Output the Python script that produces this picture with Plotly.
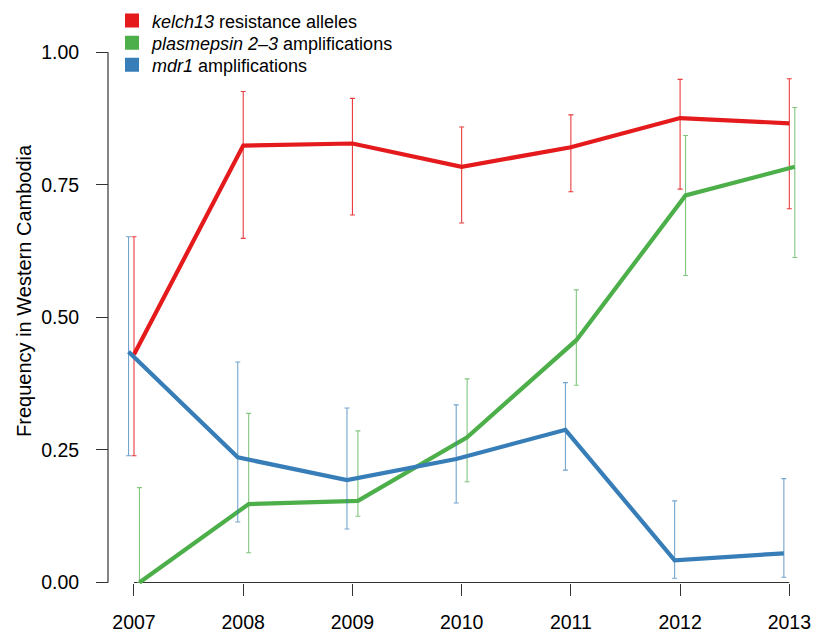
import plotly.graph_objects as go

# Survey years and per-series frequencies with confidence bounds
years = [2007, 2008, 2009, 2010, 2011, 2012, 2013]

kelch13 = [0.430, 0.824, 0.828, 0.784, 0.821, 0.876, 0.866]
kelch13_hi = [0.652, 0.926, 0.913, 0.859, 0.882, 0.949, 0.950]
kelch13_lo = [0.239, 0.649, 0.693, 0.678, 0.737, 0.742, 0.705]

plasmepsin = [0.000, 0.148, 0.154, 0.274, 0.457, 0.730, 0.784]
plasmepsin_hi = [0.179, 0.319, 0.286, 0.384, 0.552, 0.843, 0.896]
plasmepsin_lo = [0.000, 0.056, 0.125, 0.190, 0.372, 0.579, 0.613]

mdr1 = [0.435, 0.236, 0.193, 0.233, 0.288, 0.042, 0.055]
mdr1_hi = [0.652, 0.416, 0.329, 0.335, 0.377, 0.154, 0.196]
mdr1_lo = [0.239, 0.114, 0.101, 0.150, 0.212, 0.008, 0.010]

y_ticks = [0.0, 0.25, 0.5, 0.75, 1.0]
y_tick_labels = ["0.00", "0.25", "0.50", "0.75", "1.00"]
x_tick_labels = [str(y) for y in years]

RED = "#E41A1C"
GREEN = "#4DAF4A"
BLUE = "#377EB8"
FONT = "Liberation Sans, Arial, Helvetica, sans-serif"

# Canvas geometry (pixels)
W, H = 814, 632
ML, MR, MT, MB = 100, 2, 0, 40
plot_w = W - ML - MR
plot_h = H - MT - MB

# pixel placement of the data scales
X0_PX, X_PER_YEAR = 134.0, 109.22
Y0_PX, Y_PER_UNIT = 582.5, 530.2
x_range = [2006.8, 2013.2]
y_range = [-0.012, 1.08]


def xfrac(px):
    return (px - ML) / plot_w


def yfrac(py):
    return (H - MB - py) / plot_h


def x_px(v):
    return X0_PX + (v - years[0]) * X_PER_YEAR


def y_px(v):
    return Y0_PX - v * Y_PER_UNIT


x_domain = [xfrac(x_px(x_range[0])), xfrac(x_px(x_range[1]))]
y_domain = [yfrac(y_px(y_range[0])), yfrac(y_px(y_range[1]))]

fig = go.Figure()

series = [
    ("<i>kelch13</i> resistance alleles", kelch13, kelch13_hi, kelch13_lo, RED, 0.0, "rgba(228,26,28,0.85)"),
    ("<i>plasmepsin 2\u20133</i> amplifications", plasmepsin, plasmepsin_hi, plasmepsin_lo, GREEN, 0.05, "rgba(77,175,74,0.7)"),
    ("<i>mdr1</i> amplifications", mdr1, mdr1_hi, mdr1_lo, BLUE, -0.05, "rgba(55,126,184,0.7)"),
]

for name, vals, hi, lo, color, dx, ecolor in series:
    xs = [yr + dx for yr in years]
    fig.add_trace(go.Scatter(
        x=xs, y=vals, mode="lines",
        line=dict(color=color, width=4.2),
        error_y=dict(
            type="data", symmetric=False,
            array=[h - v for h, v in zip(hi, vals)],
            arrayminus=[v - l for v, l in zip(vals, lo)],
            color=ecolor, thickness=1.1, width=2.5,
        ),
        showlegend=False, hoverinfo="skip",
    ))

# one legend box per entry so the rows sit at a tight, even spacing
legend_names = ["legend", "legend2", "legend3"]
legend_tops = [2.3, 24.5, 46.5]
legend_layout = {}
for (name, vals, hi, lo, color, dx, ecolor), lg, top in zip(series, legend_names, legend_tops):
    fig.add_trace(go.Scatter(
        x=[None], y=[None], mode="markers", name=name,
        marker=dict(symbol="square", size=14, color=color),
        showlegend=True, legend=lg,
    ))
    legend_layout[lg] = dict(
        x=xfrac(112), y=yfrac(top), xanchor="left", yanchor="top",
        bgcolor="rgba(0,0,0,0)", font=dict(size=18, family=FONT),
        itemsizing="trace",
    )

axis_color = "#333333"

fig.update_layout(
    width=W, height=H,
    margin=dict(l=ML, r=MR, t=MT, b=MB, autoexpand=False),
    paper_bgcolor="white", plot_bgcolor="white",
    font=dict(family=FONT, color="black", size=19.5),
    xaxis=dict(
        domain=x_domain, range=x_range, anchor="free", position=yfrac(Y0_PX),
        tickmode="array", tickvals=years, ticktext=x_tick_labels,
        ticks="outside", ticklen=12, tickwidth=1, tickcolor=axis_color,
        showline=False, showgrid=False, zeroline=False,
        tickfont=dict(size=19.5), ticklabelstandoff=10,
    ),
    yaxis=dict(
        domain=y_domain, range=y_range, anchor="free", position=xfrac(108),
        tickmode="array", tickvals=y_ticks, ticktext=y_tick_labels,
        ticks="outside", ticklen=12, tickwidth=1, tickcolor=axis_color,
        showline=False, showgrid=False, zeroline=False,
        tickfont=dict(size=19.5), ticklabelstandoff=13,
    ),
    shapes=[
        dict(type="line", xref="x", yref="y", x0=years[0], x1=years[-1], y0=0, y1=0,
             line=dict(color=axis_color, width=1.2), layer="below"),
        dict(type="line", xref="paper", yref="y", x0=xfrac(108), x1=xfrac(108),
             y0=y_ticks[0], y1=y_ticks[-1], line=dict(color=axis_color, width=1.2)),
    ],
    annotations=[
        dict(text="Frequency in Western Cambodia", xref="paper", yref="y",
             x=xfrac(24), y=0.55, textangle=-90, showarrow=False,
             xanchor="center", yanchor="middle", font=dict(size=20, family=FONT)),
    ],
    **legend_layout,
)

fig.write_html("out.html")
